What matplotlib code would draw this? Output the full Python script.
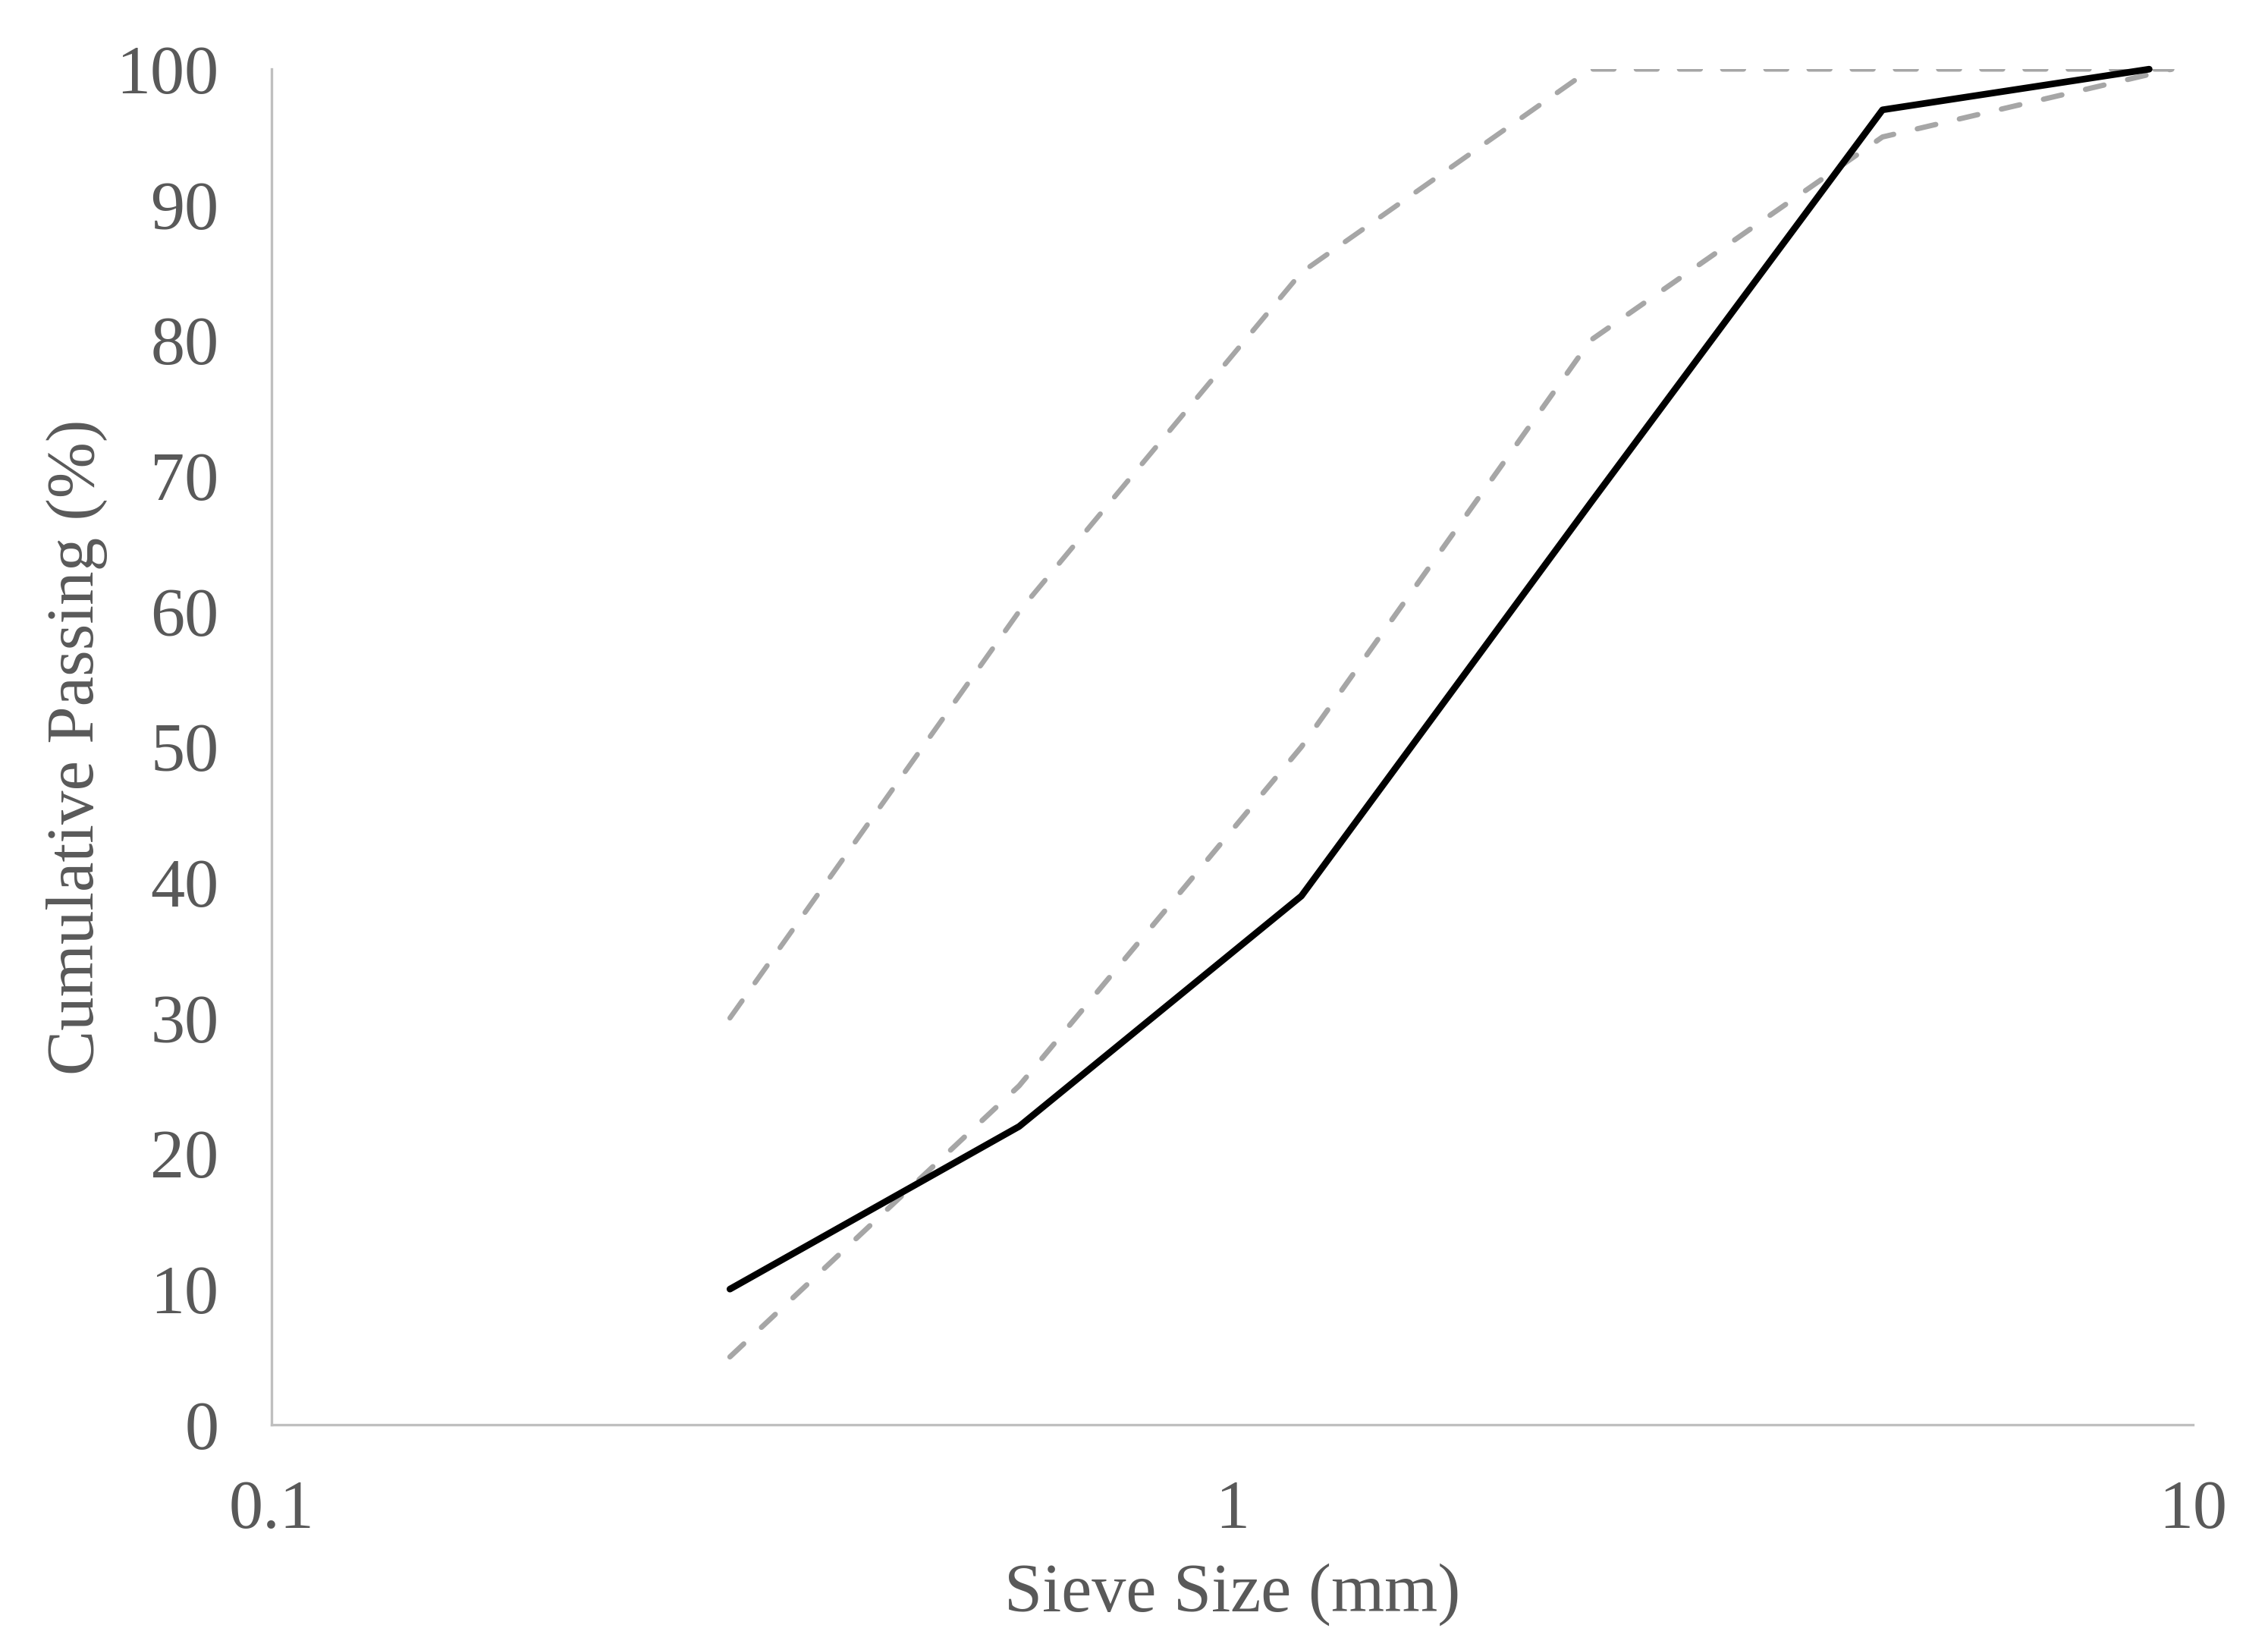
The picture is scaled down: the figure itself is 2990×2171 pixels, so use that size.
import matplotlib
matplotlib.use("Agg")
import matplotlib.pyplot as plt

# Data
sieve_black = [0.3, 0.6, 1.18, 2.36, 4.75, 9.0]
passing_black = [10, 22, 39, 68, 97, 100]
sieve_limits = [0.3, 0.6, 1.18, 2.36, 4.75, 9.5]
upper_limit = [30, 60, 85, 100, 100, 100]
lower_limit = [5, 25, 50, 80, 95, 100]
x_ticks = [0.1, 1, 10]
x_tick_labels = ["0.1", "1", "10"]
y_ticks = list(range(0, 101, 10))

plt.rcParams['font.family'] = ['Liberation Serif', 'DejaVu Serif']
plt.rcParams['lines.scale_dashes'] = False

fig = plt.figure(figsize=(29.9, 21.71), dpi=100)
ax = fig.add_axes([0.1197, 0.135, 0.967 - 0.1197, 0.958 - 0.135])

ax.plot(sieve_limits, upper_limit, color='#A6A6A6', lw=4.8, dashes=(20, 21),
        dash_capstyle='round')
ax.plot(sieve_limits, lower_limit, color='#A6A6A6', lw=5.0, dashes=(18, 23),
        dash_capstyle='round')
ax.plot(sieve_black, passing_black, color='black', lw=6.3, solid_capstyle='round',
        clip_on=False)

ax.set_xscale('log')
ax.set_xlim(0.1, 10)
ax.set_ylim(0, 100)
ax.set_xticks(x_ticks)
ax.set_xticklabels(x_tick_labels)
ax.minorticks_off()
ax.set_yticks(y_ticks)

for s in ['top', 'right']:
    ax.spines[s].set_visible(False)
for s in ['left', 'bottom']:
    ax.spines[s].set_color('#BFBFBF')
    ax.spines[s].set_linewidth(2.4)

ax.tick_params(axis='both', length=0, labelsize=65, colors='#595959')
ax.tick_params(axis='y', pad=50)
ax.tick_params(axis='x', pad=52)

ax.set_xlabel('Sieve Size (mm)', fontsize=65, color='#595959', labelpad=20)
ax.set_ylabel('Cumulative Passing (%)', fontsize=64, color='#595959', labelpad=8)

fig.savefig('out.png', dpi=100)
